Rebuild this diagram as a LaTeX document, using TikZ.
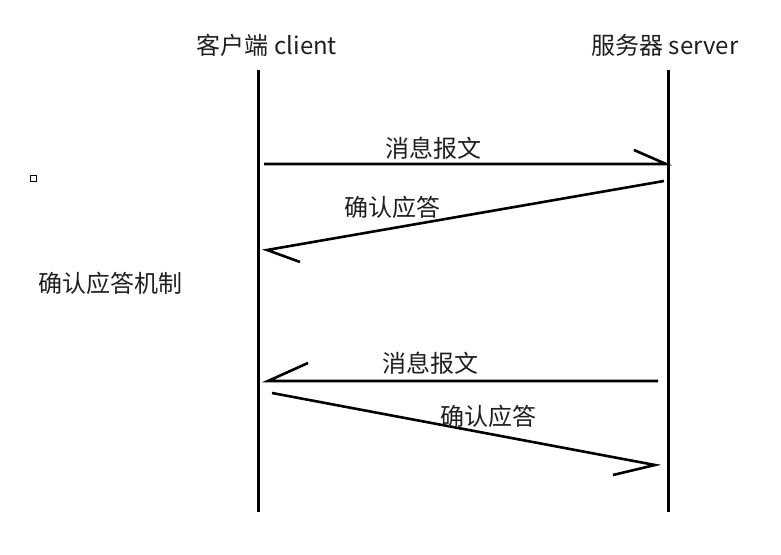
\documentclass[tikz,border=0pt]{standalone}
\usepackage{fontspec}
\newfontfamily\cjk{Noto Sans CJK SC}
\usepackage{tikz}
\usetikzlibrary{arrows}

\begin{document}
\begin{tikzpicture}[x=1pt,y=1pt]
		\tikzstyle {life line} = [line width=3pt]
		\tikzstyle {msg} = [line width=2.6pt]
		\tikzstyle {lbl} = [font=\cjk\fontsize{24}{27}\selectfont, inner sep=0pt, text=black!88]

		\useasboundingbox (0,0) rectangle (781,554);

		% lifelines
		\coordinate (c top) at (258,484);
		\coordinate (c bot) at (258,42);
		\coordinate (s top) at (668,484);
		\coordinate (s bot) at (668,42);
		\draw[life line] (c top) -- (c bot);
		\draw[life line] (s top) -- (s bot);

		\node[lbl] (client) at (267,509) {客户端 client};
		\node[lbl] (server) at (665,509) {服务器 server};

		% first exchange
		\coordinate (m1s) at (264,390);
		\coordinate (m1e) at (666,390);
		\draw[msg] (m1s) -- (m1e) -- ++(-32,14);
		\node[lbl] (msg1) at (433,406) {消息报文};

		\coordinate (a1s) at (664,373);
		\coordinate (a1e) at (267,304);
		\draw[msg] (a1s) -- (a1e) -- ++(33,-12);
		\node[lbl] (ack1) at (392,347) {确认应答};

		% second exchange
		\coordinate (m2s) at (658,173);
		\coordinate (m2e) at (268,173);
		\draw[msg] (m2s) -- (m2e) -- ++(40,18);
		\node[lbl] (msg2) at (430,191) {消息报文};

		\coordinate (a2s) at (272,161);
		\coordinate (a2e) at (655,89);
		\draw[msg] (a2s) -- (a2e) -- ++(-42,-10);
		\node[lbl] (ack2) at (488,138) {确认应答};

		% side note
		\node[draw, line width=1pt, minimum size=6pt, inner sep=0pt] (box) at (33,375) {};
		\node[lbl] (note) at (110,271) {确认应答机制};
\end{tikzpicture}
\end{document}
